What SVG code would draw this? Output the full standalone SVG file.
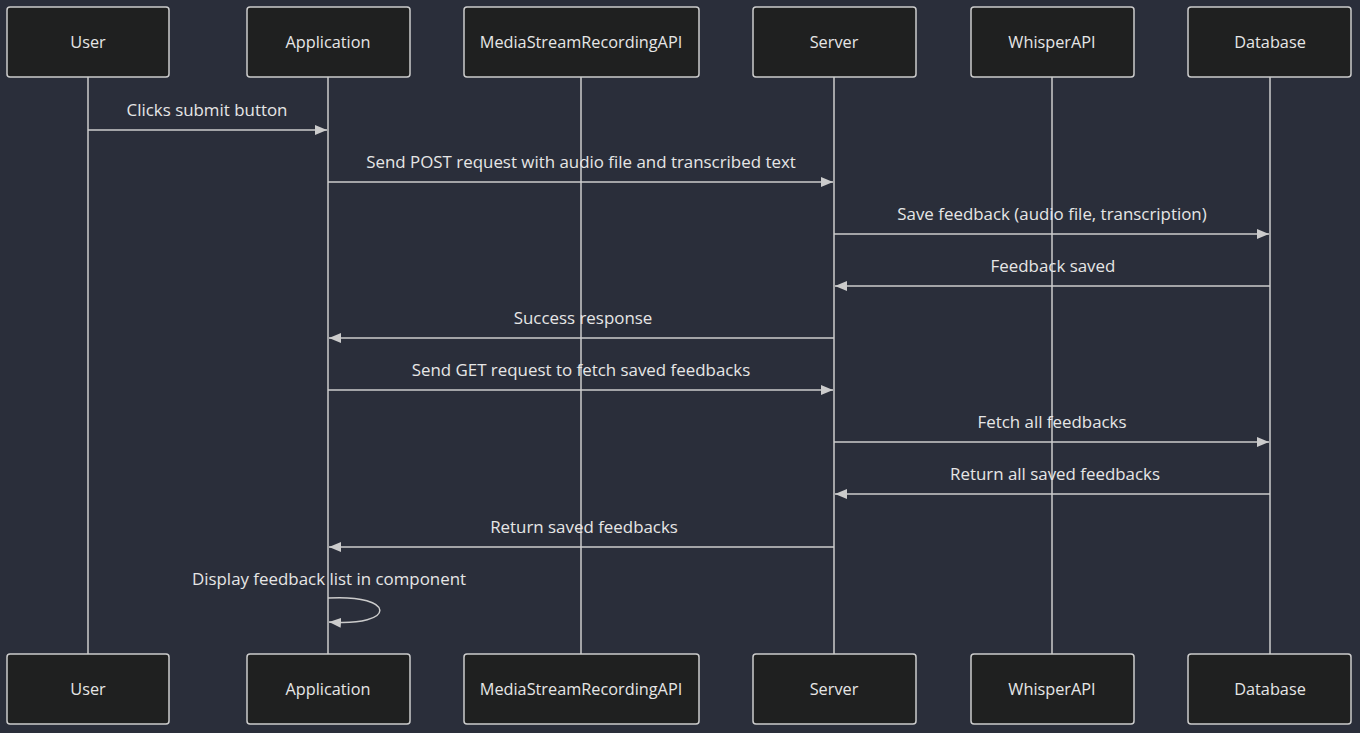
<svg xmlns="http://www.w3.org/2000/svg" width="1360" height="733" viewBox="0 0 1360 733">
<style>
.bg{fill:#2a2e3a}
.actor rect{fill:#1f2020;stroke:#cccccc;stroke-width:1.5}
.actor text{fill:#e6e6e6;font-family:"Open Sans","Lato",sans-serif;font-size:16.3px;text-anchor:middle;dominant-baseline:central}
.life{stroke:#cccccc;stroke-width:1.5}
.msg{stroke:#cccccc;stroke-width:1.5;fill:none}
.lbl{fill:#e6e6e6;font-family:"Open Sans","Lato",sans-serif;font-size:16.9px;text-anchor:middle}
</style>
<defs>
<marker id="ah" viewBox="0 0 12 10" refX="12" refY="5" markerWidth="12" markerHeight="10" markerUnits="userSpaceOnUse" orient="auto">
<path d="M0,0 L12,5 L0,10 z" fill="#cccccc"/>
</marker>
</defs>
<rect class="bg" x="0" y="0" width="1360" height="733"/>
<g id="lifelines">
<line class="life" x1="88" y1="77" x2="88" y2="654"/>
<line class="life" x1="328" y1="77" x2="328" y2="654"/>
<line class="life" x1="581" y1="77" x2="581" y2="654"/>
<line class="life" x1="834" y1="77" x2="834" y2="654"/>
<line class="life" x1="1052" y1="77" x2="1052" y2="654"/>
<line class="life" x1="1270" y1="77" x2="1270" y2="654"/>
</g>
<g id="actor-user-top" class="actor"><rect x="7" y="7" width="162" height="70" rx="3"/><text x="88" y="42">User</text></g>
<g id="actor-app-top" class="actor"><rect x="247" y="7" width="163" height="70" rx="3"/><text x="328" y="42">Application</text></g>
<g id="actor-media-top" class="actor"><rect x="464" y="7" width="235" height="70" rx="3"/><text x="581" y="42">MediaStreamRecordingAPI</text></g>
<g id="actor-server-top" class="actor"><rect x="753" y="7" width="163" height="70" rx="3"/><text x="834" y="42">Server</text></g>
<g id="actor-whisper-top" class="actor"><rect x="971" y="7" width="163" height="70" rx="3"/><text x="1052" y="42">WhisperAPI</text></g>
<g id="actor-db-top" class="actor"><rect x="1188" y="7" width="163" height="70" rx="3"/><text x="1270" y="42">Database</text></g>
<g id="actor-user-bottom" class="actor"><rect x="7" y="654" width="162" height="70" rx="3"/><text x="88" y="689">User</text></g>
<g id="actor-app-bottom" class="actor"><rect x="247" y="654" width="163" height="70" rx="3"/><text x="328" y="689">Application</text></g>
<g id="actor-media-bottom" class="actor"><rect x="464" y="654" width="235" height="70" rx="3"/><text x="581" y="689">MediaStreamRecordingAPI</text></g>
<g id="actor-server-bottom" class="actor"><rect x="753" y="654" width="163" height="70" rx="3"/><text x="834" y="689">Server</text></g>
<g id="actor-whisper-bottom" class="actor"><rect x="971" y="654" width="163" height="70" rx="3"/><text x="1052" y="689">WhisperAPI</text></g>
<g id="actor-db-bottom" class="actor"><rect x="1188" y="654" width="163" height="70" rx="3"/><text x="1270" y="689">Database</text></g>
<g id="connectors">
<line class="msg" x1="88" y1="130" x2="327" y2="130" marker-end="url(#ah)"/>
<line class="msg" x1="328" y1="182" x2="833" y2="182" marker-end="url(#ah)"/>
<line class="msg" x1="834" y1="234" x2="1269" y2="234" marker-end="url(#ah)"/>
<line class="msg" x1="1270" y1="286" x2="835" y2="286" marker-end="url(#ah)"/>
<line class="msg" x1="834" y1="338" x2="329" y2="338" marker-end="url(#ah)"/>
<line class="msg" x1="328" y1="390" x2="833" y2="390" marker-end="url(#ah)"/>
<line class="msg" x1="834" y1="442" x2="1269" y2="442" marker-end="url(#ah)"/>
<line class="msg" x1="1270" y1="494" x2="835" y2="494" marker-end="url(#ah)"/>
<line class="msg" x1="834" y1="547" x2="329" y2="547" marker-end="url(#ah)"/>
<path class="msg" d="M328,598 C397,594 397,627 329,622" marker-end="url(#ah)"/>
</g>
<g id="labels">
<text class="lbl" x="207" y="116">Clicks submit button</text>
<text class="lbl" x="581" y="168">Send POST request with audio file and transcribed text</text>
<text class="lbl" x="1052" y="220">Save feedback (audio file, transcription)</text>
<text class="lbl" x="1053" y="272">Feedback saved</text>
<text class="lbl" x="583" y="324">Success response</text>
<text class="lbl" x="581" y="376">Send GET request to fetch saved feedbacks</text>
<text class="lbl" x="1052" y="428">Fetch all feedbacks</text>
<text class="lbl" x="1055" y="480">Return all saved feedbacks</text>
<text class="lbl" x="584" y="533">Return saved feedbacks</text>
<text class="lbl" x="329" y="585">Display feedback list in component</text>
</g>
</svg>
